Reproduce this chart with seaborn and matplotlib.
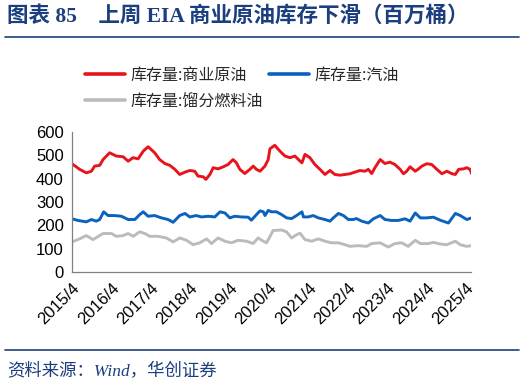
import pandas as pd
import numpy as np
import matplotlib
matplotlib.use("Agg")
import matplotlib.pyplot as plt
import matplotlib.dates as mdates
import seaborn as sns

# ==========================
# DATA (million barrels)
# ==========================
crude_dates = [
    "2015-04-01", "2015-06-11", "2015-08-12", "2015-09-28", "2015-10-28", "2015-12-14",
    "2016-01-14", "2016-03-15", "2016-05-16", "2016-07-18", "2016-09-03", "2016-10-19",
    "2016-12-04", "2017-01-21", "2017-03-07", "2017-05-07", "2017-06-22", "2017-08-09",
    "2017-09-25", "2017-11-10", "2017-12-25", "2018-02-12", "2018-03-28", "2018-05-13",
    "2018-06-13", "2018-08-01", "2018-08-25", "2018-10-01", "2018-11-01", "2018-12-16",
    "2019-02-03", "2019-03-19", "2019-05-04", "2019-06-04", "2019-07-06", "2019-08-21",
    "2019-10-07", "2019-11-07", "2019-12-07", "2020-01-09", "2020-02-24", "2020-03-25",
    "2020-04-10", "2020-05-25", "2020-07-12", "2020-08-28", "2020-10-13", "2020-11-28",
    "2021-01-15", "2021-02-01", "2021-03-01", "2021-04-16", "2021-06-01", "2021-07-18",
    "2021-09-03", "2021-10-19", "2021-12-04", "2022-01-21", "2022-03-07", "2022-04-22",
    "2022-06-07", "2022-07-24", "2022-09-09", "2022-10-10", "2022-11-10", "2022-12-10",
    "2023-01-28", "2023-03-13", "2023-04-28", "2023-06-13", "2023-08-01", "2023-09-01",
    "2023-10-01", "2023-11-01", "2023-12-19", "2024-01-19", "2024-02-19", "2024-04-04",
    "2024-05-19", "2024-07-07", "2024-08-22", "2024-10-07", "2024-11-25", "2024-12-25",
    "2025-01-25", "2025-03-10", "2025-04-10", "2025-05-10", "2025-05-25",
]
crude = [
    464, 440, 425, 432, 454, 457,
    482, 511, 497, 494, 475, 490,
    485, 518, 537, 511, 482, 465,
    457, 440, 418, 428, 435, 432,
    411, 408, 397, 418, 447, 442,
    451, 461, 482, 468, 440, 422,
    440, 454, 440, 432, 454, 482,
    528, 543, 518, 497, 490, 497,
    475, 468, 504, 490, 461, 440,
    418, 435, 418, 415, 418, 421,
    428, 435, 432, 440, 422, 447,
    482, 465, 471, 461, 440, 421,
    432, 451, 432, 442, 454, 464,
    461, 440, 421, 432, 421, 418,
    440, 442, 447, 440, 422,
]

gasoline_dates = [
    "2015-04-01", "2015-05-26", "2015-08-12", "2015-09-28", "2015-11-13", "2015-12-14",
    "2016-01-20", "2016-03-01", "2016-05-01", "2016-07-02", "2016-09-03", "2016-11-04",
    "2016-12-19", "2017-01-21", "2017-03-07", "2017-05-07", "2017-07-08", "2017-09-08",
    "2017-10-25", "2017-12-25", "2018-02-12", "2018-03-28", "2018-05-28", "2018-07-15",
    "2018-09-15", "2018-11-15", "2019-01-03", "2019-02-18", "2019-04-04", "2019-05-19",
    "2019-07-21", "2019-09-21", "2019-10-21", "2019-12-07", "2020-01-09", "2020-02-09",
    "2020-02-24", "2020-03-25", "2020-04-25", "2020-06-10", "2020-07-28", "2020-09-12",
    "2020-10-28", "2020-12-13", "2021-02-01", "2021-02-15", "2021-04-01", "2021-05-16",
    "2021-07-03", "2021-09-03", "2021-10-19", "2021-11-19", "2022-01-06", "2022-02-21",
    "2022-04-07", "2022-05-22", "2022-06-22", "2022-08-09", "2022-10-10", "2022-11-25",
    "2023-01-28", "2023-03-13", "2023-05-13", "2023-07-15", "2023-09-15", "2023-11-01",
    "2023-12-19", "2024-02-04", "2024-04-04", "2024-06-04", "2024-08-07", "2024-10-22",
    "2024-12-25", "2025-02-09", "2025-04-10", "2025-05-25",
]
gasoline = [
    228, 221, 215, 225, 218, 225,
    258, 242, 242, 239, 225, 225,
    246, 258, 239, 242, 232, 225,
    213, 242, 251, 236, 242, 236,
    239, 236, 258, 253, 232, 239,
    236, 235, 222, 246, 262, 258,
    242, 264, 258, 258, 246, 232,
    229, 242, 258, 236, 236, 242,
    232, 225, 218, 232, 251, 242,
    225, 225, 229, 218, 210, 228,
    242, 225, 221, 221, 228, 218,
    253, 232, 232, 235, 222, 210,
    251, 242, 225, 232,
]

distillate_dates = [
    "2015-04-01", "2015-05-26", "2015-08-12", "2015-10-13", "2015-12-14", "2016-01-14",
    "2016-04-01", "2016-05-16", "2016-07-18", "2016-09-03", "2016-10-19", "2016-12-19",
    "2017-02-05", "2017-03-22", "2017-06-07", "2017-08-24", "2017-10-25", "2017-12-25",
    "2018-02-27", "2018-04-28", "2018-06-28", "2018-09-01", "2018-10-16", "2018-12-16",
    "2019-02-18", "2019-04-19", "2019-06-19", "2019-09-06", "2019-11-07", "2019-12-22",
    "2020-02-09", "2020-03-10", "2020-05-10", "2020-07-28", "2020-09-12", "2020-10-28",
    "2020-12-13", "2021-01-15", "2021-03-01", "2021-05-01", "2021-07-03", "2021-09-03",
    "2021-11-04", "2022-01-06", "2022-03-07", "2022-04-22", "2022-07-08", "2022-09-25",
    "2022-11-10", "2023-01-28", "2023-04-13", "2023-06-13", "2023-08-15", "2023-10-15",
    "2023-12-19", "2024-02-04", "2024-04-19", "2024-06-04", "2024-08-07", "2024-10-07",
    "2024-12-25", "2025-02-09", "2025-04-10", "2025-05-25",
]
distillate = [
    129, 139, 156, 139, 156, 165,
    165, 153, 156, 165, 153, 172,
    165, 153, 153, 146, 129, 146,
    136, 117, 125, 142, 122, 146,
    132, 125, 136, 132, 122, 146,
    132, 125, 178, 180, 172, 146,
    160, 166, 139, 132, 142, 132,
    125, 125, 117, 110, 113, 110,
    122, 125, 107, 122, 125, 110,
    136, 122, 122, 127, 120, 117,
    132, 117, 110, 113,
]

labels = ["库存量:商业原油", "库存量:汽油", "库存量:馏分燃料油"]
colors = ["#E8141C", "#0A62BE", "#BBBBBB"]

df = pd.concat([
    pd.DataFrame({"date": pd.to_datetime(crude_dates), "value": crude, "series": labels[0]}),
    pd.DataFrame({"date": pd.to_datetime(gasoline_dates), "value": gasoline, "series": labels[1]}),
    pd.DataFrame({"date": pd.to_datetime(distillate_dates), "value": distillate, "series": labels[2]}),
])

# ==========================
# PLOT
# ==========================
sns.set_style("white")
plt.rcParams["font.family"] = ["Liberation Sans", "Noto Sans CJK SC"]

fig = plt.figure(figsize=(5.24, 3.86), dpi=100)
ax = fig.add_axes([0.1374, 0.2953, 0.7616, 0.3627])

sns.lineplot(
    data=df, x="date", y="value", hue="series",
    hue_order=labels, palette=colors,
    linewidth=2.1, ax=ax, legend=False
)

ax.set_ylim(0, 600)
ax.set_yticks(range(0, 601, 100))
ax.set_xlim(pd.Timestamp("2015-04-01"), pd.Timestamp("2025-05-20"))
ax.xaxis.set_major_locator(mdates.MonthLocator(bymonth=4, bymonthday=1))
ax.xaxis.set_major_formatter(mdates.DateFormatter("%Y/%-m"))
ax.set_xlabel("")
ax.set_ylabel("")

for s in ["top", "right"]:
    ax.spines[s].set_visible(False)
for s in ["left", "bottom"]:
    ax.spines[s].set_color("#808080")
    ax.spines[s].set_linewidth(0.9)

ax.tick_params(axis="both", which="major", direction="out", length=4,
               width=0.9, color="#808080", labelsize=12, labelcolor="black", pad=2)
plt.setp(ax.get_xticklabels(), rotation=45, ha="right", rotation_mode="anchor")

# legend: red + blue on first row, grey on second
handles = [plt.Line2D([], [], color=c, linewidth=2.6) for c in colors]
order = [0, 2, 1]
fig.legend(
    [handles[i] for i in order], [labels[i] for i in order],
    ncol=2, loc="upper left", bbox_to_anchor=(0.134, 0.864),
    frameon=False, handlelength=2.5, handletextpad=0.35,
    columnspacing=0.4, labelspacing=0.55,
    prop={"family": ["Noto Sans CJK SC"], "size": 11.5}
)

# title, rules and source
title_col = "#1B3F7E"
fig.text(0.013, 0.957, "图表 85　上周 EIA 商业原油库存下滑（百万桶）",
         fontsize=15.5, fontweight="bold", color=title_col, va="center",
         family=["Liberation Serif", "Noto Sans CJK SC"])
fig.add_artist(plt.Line2D([0.01, 0.99], [0.903, 0.903], color=title_col, linewidth=1.2))
fig.add_artist(plt.Line2D([0.01, 0.99], [0.092, 0.092], color=title_col, linewidth=1.2))
fig.text(0.013, 0.037, "资料来源：Wind，华创证券", fontsize=12.5, color=title_col,
         va="center", style="italic", family=["Liberation Serif", "Noto Sans CJK SC"])

fig.savefig("out.png", dpi=100)
